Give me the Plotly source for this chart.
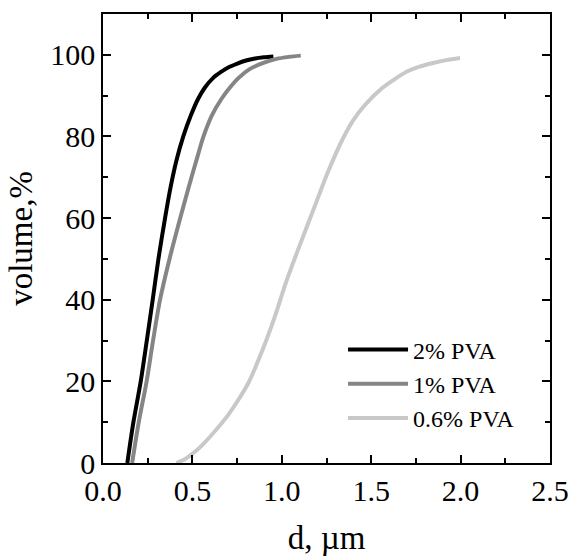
import plotly.graph_objects as go

# 2% PVA
d_2 = [0.136, 0.17, 0.211, 0.245, 0.278, 0.31, 0.347, 0.38, 0.41, 0.449, 0.49, 0.533,
       0.57, 0.615, 0.66, 0.7, 0.748, 0.8, 0.85, 0.9, 0.953]
v_2 = [0, 10, 20, 30, 40, 50, 60, 68, 74, 80, 85, 89.3,
       92, 94.3, 95.8, 96.9, 97.8, 98.6, 99.1, 99.4, 99.6]

# 1% PVA
d_1 = [0.163, 0.2, 0.244, 0.28, 0.319, 0.372, 0.432, 0.463, 0.495, 0.528, 0.562, 0.607,
       0.664, 0.71, 0.757, 0.82, 0.897, 0.97, 1.04, 1.106]
v_1 = [0, 10, 20, 30, 40, 50, 60, 65, 70, 75, 80, 85,
       89.3, 92, 94.3, 96.5, 98, 99, 99.5, 99.8]

# 0.6% PVA
d_06 = [0.41, 0.46, 0.524, 0.6, 0.692, 0.75, 0.813, 0.893, 0.962, 1.023, 1.092, 1.185,
        1.258, 1.342, 1.40, 1.465, 1.56, 1.63, 1.70, 1.77, 1.846, 1.92, 1.997]
v_06 = [0, 1, 3.1, 6.5, 11.3, 15, 19.6, 27.8, 36, 44.2, 52.4, 63,
        71.3, 79.5, 84, 87.7, 91.8, 94, 95.9, 97.1, 98, 98.7, 99.2]

fig = go.Figure()
fig.add_trace(go.Scatter(x=d_2, y=v_2, mode="lines", name="2% PVA",
                         line=dict(color="black", width=4, shape="spline", smoothing=0.8)))
fig.add_trace(go.Scatter(x=d_1, y=v_1, mode="lines", name="1% PVA",
                         line=dict(color="#858585", width=4, shape="spline", smoothing=0.8)))
fig.add_trace(go.Scatter(x=d_06, y=v_06, mode="lines", name="0.6% PVA",
                         line=dict(color="#c8c8c8", width=4, shape="spline", smoothing=0.8)))

font = "Liberation Serif, Times New Roman, serif"
axis = dict(
    showline=True, linecolor="black", linewidth=1.5, mirror="allticks",
    ticks="inside", ticklen=8, tickwidth=1.5, tickcolor="black",
    showgrid=False, zeroline=False, automargin=False,
    tickfont=dict(family=font, size=30, color="black"),
)
minor = dict(ticks="inside", ticklen=5, tickwidth=1.5, tickcolor="black", showgrid=False)

fig.update_layout(
    width=570, height=559,
    margin=dict(l=103, r=20, t=14, b=96),
    plot_bgcolor="white", paper_bgcolor="white",
    font=dict(family=font, color="black"),
    xaxis=dict(axis, range=[0, 2.5], dtick=0.5, tickformat=".1f",
               minor=dict(minor, dtick=0.25),
               title=dict(text="d, µm", font=dict(size=33), standoff=20)),
    yaxis=dict(axis, range=[0, 110], dtick=20,
               minor=dict(minor, dtick=10),
               title=dict(text="volume,%", font=dict(size=33), standoff=8)),
    legend=dict(x=0.537, y=0.302, xanchor="left", yanchor="top",
                font=dict(family=font, size=24, color="black"),
                bgcolor="rgba(0,0,0,0)", tracegroupgap=0, itemwidth=60),
    showlegend=True,
)

fig.write_html("out.html", config={"displayModeBar": False},
               post_script="document.body.style.margin='0';")
